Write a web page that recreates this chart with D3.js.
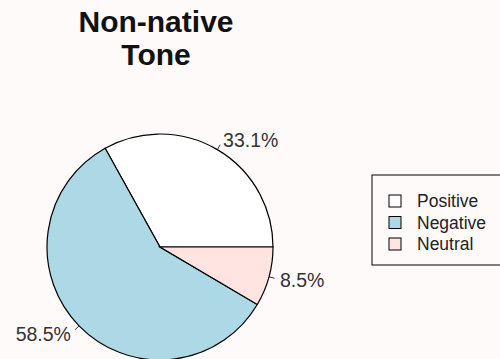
<!DOCTYPE html>
<html>
<head>
<meta charset="utf-8">
<script src="https://cdn.jsdelivr.net/npm/d3@7"></script>
<style>
  html, body { margin: 0; padding: 0; background: #FFFAFA; }
  svg { display: block; font-family: "Liberation Sans", Arial, sans-serif; }
</style>
</head>
<body>
<svg id="chart" width="500" height="359"></svg>
<script>
// Tone of non-native comments
const categories = ["Positive", "Negative", "Neutral"];
const shares = [33.1, 58.5, 8.5];
const fills = ["#FFFFFF", "#ADD8E6", "#FFE4E1"];
const titleLines = ["Non-native", "Tone"];

const svg = d3.select("#chart");
const W = 500, H = 359;
svg.append("rect").attr("width", W).attr("height", H).attr("fill", "#FFFAFA");

// Title
svg.append("g").selectAll("text").data(titleLines).join("text")
  .attr("x", 156)
  .attr("y", (d, i) => 32 + i * 33)
  .attr("text-anchor", "middle")
  .attr("font-size", 30)
  .attr("font-weight", "bold")
  .attr("fill", "#111")
  .text(d => d);

// Pie: starts at 3 o'clock and runs counter-clockwise
const cx = 160, cy = 247, r = 113;
const pie = d3.pie().sort(null).value(d => d)
  .startAngle(Math.PI / 2).endAngle(Math.PI / 2 - 2 * Math.PI);
const arcs = pie(shares);
const arc = d3.arc().innerRadius(0).outerRadius(r);

const g = svg.append("g").attr("transform", `translate(${cx},${cy})`);
g.selectAll("path").data(arcs).join("path")
  .attr("d", arc)
  .attr("fill", (d, i) => fills[i])
  .attr("stroke", "#000")
  .attr("stroke-width", 1.2);

// Percentage labels with short leader ticks
const mid = d => (d.startAngle + d.endAngle) / 2;
const pt = (a, rr) => [Math.sin(a) * rr, -Math.cos(a) * rr];
g.selectAll("line.tick").data(arcs).join("line")
  .attr("class", "tick")
  .attr("x1", d => pt(mid(d), r)[0]).attr("y1", d => pt(mid(d), r)[1])
  .attr("x2", d => pt(mid(d), r * 1.05)[0]).attr("y2", d => pt(mid(d), r * 1.05)[1])
  .attr("stroke", "#000").attr("stroke-width", 0.8);
g.selectAll("text.lab").data(arcs).join("text")
  .attr("class", "lab")
  .attr("x", d => pt(mid(d), r * 1.1)[0])
  .attr("y", d => pt(mid(d), r * 1.1)[1])
  .attr("dy", "0.36em")
  .attr("text-anchor", d => pt(mid(d), 1)[0] < 0 ? "end" : "start")
  .attr("font-size", 19.5)
  .attr("fill", "#333")
  .text(d => d.data.toFixed(1) + "%");

// Legend
const lg = svg.append("g");
lg.append("rect").attr("x", 372).attr("y", 175).attr("width", 140).attr("height", 90)
  .attr("fill", "none").attr("stroke", "#000").attr("stroke-width", 1);
const rowY = d3.scalePoint().domain(categories).range([201, 244]);
lg.selectAll("rect.key").data(categories).join("rect")
  .attr("class", "key")
  .attr("x", 389).attr("y", d => rowY(d) - 6)
  .attr("width", 12).attr("height", 12)
  .attr("fill", (d, i) => fills[i])
  .attr("stroke", "#000").attr("stroke-width", 1);
lg.selectAll("text").data(categories).join("text")
  .attr("x", 417).attr("y", d => rowY(d))
  .attr("dy", "0.36em")
  .attr("font-size", 17.5)
  .attr("fill", "#222")
  .text(d => d);
</script>
</body>
</html>
